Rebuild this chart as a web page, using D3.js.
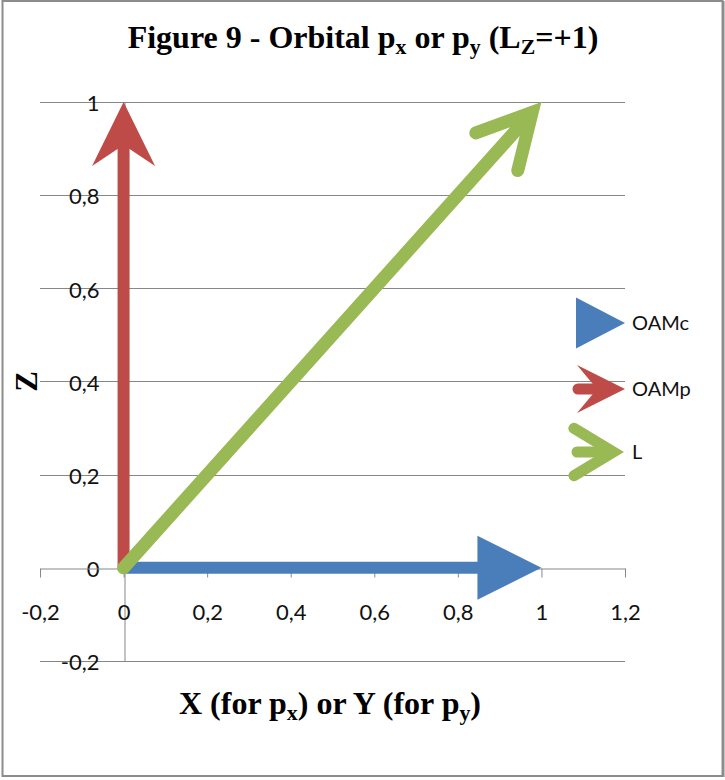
<!DOCTYPE html>
<html>
<head>
<meta charset="utf-8">
<script src="https://cdn.jsdelivr.net/npm/d3@7"></script>
<style>
  html, body { margin: 0; padding: 0; background: #fff; }
  svg { display: block; }
</style>
</head>
<body>
<div id="chart"></div>
<script>
// Vectors drawn as arrows from a start point to an end point
const seriesNames = ["OAMc", "OAMp", "L"];
const startX = [0, 0, 0];
const startY = [0, 0, 0];
const endX = [1, 0, 1];
const endY = [0, 1, 1];
const seriesColors = ["#4A7EBB", "#BE4B48", "#98B954"];
const headStyles = ["triangle", "stealth", "open"];

// Axis ticks
const xTicks = [-0.2, 0, 0.2, 0.4, 0.6, 0.8, 1, 1.2];
const xTickLabels = ["-0,2", "0", "0,2", "0,4", "0,6", "0,8", "1", "1,2"];
const yTicks = [-0.2, 0, 0.2, 0.4, 0.6, 0.8, 1];
const yTickLabels = ["-0,2", "0", "0,2", "0,4", "0,6", "0,8", "1"];

const W = 725, H = 780;
const plot = { left: 40, right: 625, top: 102, bottom: 661 };

const svg = d3.select("#chart").append("svg")
  .attr("width", W).attr("height", H);

// Chart frame
svg.append("rect")
  .attr("x", 2.5).attr("y", 1).attr("width", 720).attr("height", 775)
  .attr("fill", "#fff").attr("stroke", "#8c8c8c").attr("stroke-width", 2);
svg.append("line")
  .attr("x1", 723.5).attr("x2", 723.5).attr("y1", 1).attr("y2", 777)
  .attr("stroke", "#8c8c8c").attr("stroke-width", 2);

const x = d3.scaleLinear().domain([-0.2, 1.2]).range([plot.left, plot.right]);
const y = d3.scaleLinear().domain([-0.2, 1]).range([plot.bottom, plot.top]);

const gridColor = "#878787";
const tickFont = "Lato, 'Open Sans', sans-serif";
const tickSize = 22;

// Horizontal gridlines
svg.append("g").selectAll("line")
  .data(yTicks.filter(d => d !== 0))
  .join("line")
  .attr("x1", plot.left).attr("x2", plot.right)
  .attr("y1", d => Math.round(y(d)) + 0.5).attr("y2", d => Math.round(y(d)) + 0.5)
  .attr("stroke", gridColor).attr("stroke-width", 1);

// Vertical axis through x = 0
const yAxis = d3.axisLeft(y)
  .tickValues(yTicks)
  .tickSize(0)
  .tickPadding(25)
  .tickFormat((d, i) => yTickLabels[i]);
const gy = svg.append("g")
  .attr("transform", `translate(${Math.round(x(0)) + 0.5},0)`)
  .call(yAxis);
gy.select(".domain").attr("stroke", gridColor);
gy.selectAll(".tick text")
  .attr("font-family", tickFont).attr("font-size", tickSize)
  .attr("fill", "#111").attr("dy", "0.4em");

// Horizontal axis through z = 0
const xAxis = d3.axisBottom(x)
  .tickValues(xTicks)
  .tickSize(9)
  .tickSizeOuter(0)
  .tickPadding(27)
  .tickFormat((d, i) => xTickLabels[i]);
const gx = svg.append("g")
  .attr("transform", `translate(0,${Math.round(y(0)) + 0.5})`)
  .call(xAxis);
gx.select(".domain").attr("stroke", gridColor);
gx.selectAll(".tick line").attr("stroke", gridColor);
gx.selectAll(".tick text")
  .attr("font-family", tickFont).attr("font-size", tickSize)
  .attr("fill", "#111");

// Arrow drawing: shaft plus head of a given style, in pixel space
function drawArrow(g, style, color, p0, p1, s) {
  const dx = p1[0] - p0[0], dy = p1[1] - p0[1];
  const len = Math.hypot(dx, dy);
  const ux = dx / len, uy = dy / len;
  const nx = -uy, ny = ux;
  const at = (back, side) => [p1[0] - ux * back + nx * side, p1[1] - uy * back + ny * side];
  const line = d3.line();

  if (style === "triangle") {
    const hl = s.headLen, hw = s.headHalf;
    const end = at(hl - 1, 0);
    if (s.width > 0) {
      g.append("path").attr("d", line([p0, end]))
        .attr("stroke", color).attr("stroke-width", s.width)
        .attr("stroke-linecap", s.cap || "butt").attr("fill", "none");
    }
    g.append("path").attr("d", line([p1, at(hl, hw), at(hl, -hw)]) + "Z")
      .attr("fill", color);
  } else if (style === "stealth") {
    const hl = s.headLen, hw = s.headHalf, notch = s.notch;
    const end = at(notch - 2, 0);
    g.append("path").attr("d", line([p0, end]))
      .attr("stroke", color).attr("stroke-width", s.width)
      .attr("stroke-linecap", s.cap || "butt").attr("fill", "none");
    g.append("path").attr("d", line([p1, at(hl, hw), at(notch, 0), at(hl, -hw)]) + "Z")
      .attr("fill", color);
  } else {
    // open head: the mitred corner of the barbs lands on the end point
    const bl = s.barbLen, ang = s.barbAngle * Math.PI / 180;
    const off = (s.width / 2) / Math.sin(ang);
    const back = bl * Math.cos(ang), side = bl * Math.sin(ang);
    g.append("path").attr("d", line([p0, at(off + s.width * 0.5, 0)]))
      .attr("stroke", color).attr("stroke-width", s.width)
      .attr("stroke-linecap", "round").attr("fill", "none");
    g.append("path").attr("d", line([at(off + back, side), at(off, 0), at(off + back, -side)]))
      .attr("stroke", color).attr("stroke-width", s.width)
      .attr("stroke-linecap", "round").attr("stroke-linejoin", "miter")
      .attr("stroke-miterlimit", 10).attr("fill", "none");
  }
}

const plotStyles = {
  triangle: { width: 12, headLen: 64, headHalf: 32 },
  stealth: { width: 12, headLen: 64, headHalf: 31.5, notch: 43 },
  open: { width: 13, barbLen: 60, barbAngle: 28 }
};

const gArrows = svg.append("g");
seriesNames.forEach((name, i) => {
  const p0 = [x(startX[i]), y(startY[i])];
  const p1 = [x(endX[i]), y(endY[i])];
  drawArrow(gArrows, headStyles[i], seriesColors[i], p0, p1, plotStyles[headStyles[i]]);
});

// Legend
const legendStyles = {
  triangle: { width: 0, headLen: 49, headHalf: 25.5 },
  stealth: { width: 11, headLen: 48, headHalf: 24, notch: 28, cap: "round" },
  open: { width: 11, barbLen: 46, barbAngle: 31 }
};
const legendRows = [323, 389, 452];
const legendStart = [576, 578, 577];
const legendTip = [625, 625, 624];
const gLegend = svg.append("g");
seriesNames.forEach((name, i) => {
  const ry = legendRows[i];
  drawArrow(gLegend, headStyles[i], seriesColors[i],
    [legendStart[i], ry], [legendTip[i], ry], legendStyles[headStyles[i]]);
  gLegend.append("text")
    .attr("x", 632).attr("y", ry).attr("dy", "0.36em")
    .attr("font-family", tickFont).attr("font-size", 20).attr("fill", "#111")
    .text(name);
});

// Titles with subscripts
const serif = "'Liberation Serif', 'Times New Roman', serif";
function richText(sel, parts) {
  parts.forEach(p => {
    const t = sel.append("tspan").text(p.t);
    if (p.sub) t.attr("font-size", "68%").attr("baseline-shift", "-25%");
  });
}

const title = svg.append("text")
  .attr("x", 363).attr("y", 48)
  .attr("text-anchor", "middle")
  .attr("font-family", serif).attr("font-weight", "bold").attr("font-size", 32)
  .attr("fill", "#000");
richText(title, [
  { t: "Figure 9 - Orbital p" }, { t: "x", sub: true },
  { t: " or p" }, { t: "y", sub: true },
  { t: " (L" }, { t: "Z", sub: true }, { t: "=+1)" }
]);

const xTitle = svg.append("text")
  .attr("x", 330).attr("y", 714)
  .attr("text-anchor", "middle")
  .attr("font-family", serif).attr("font-weight", "bold").attr("font-size", 32)
  .attr("fill", "#000");
richText(xTitle, [
  { t: "X (for p" }, { t: "x", sub: true }, { t: ") or Y (for p" }, { t: "y", sub: true }, { t: ")" }
]);

svg.append("text")
  .attr("transform", `translate(37,${y(0.4)}) rotate(-90)`)
  .attr("text-anchor", "middle")
  .attr("font-family", serif).attr("font-weight", "bold").attr("font-size", 31)
  .attr("fill", "#000")
  .text("Z");
</script>
</body>
</html>
